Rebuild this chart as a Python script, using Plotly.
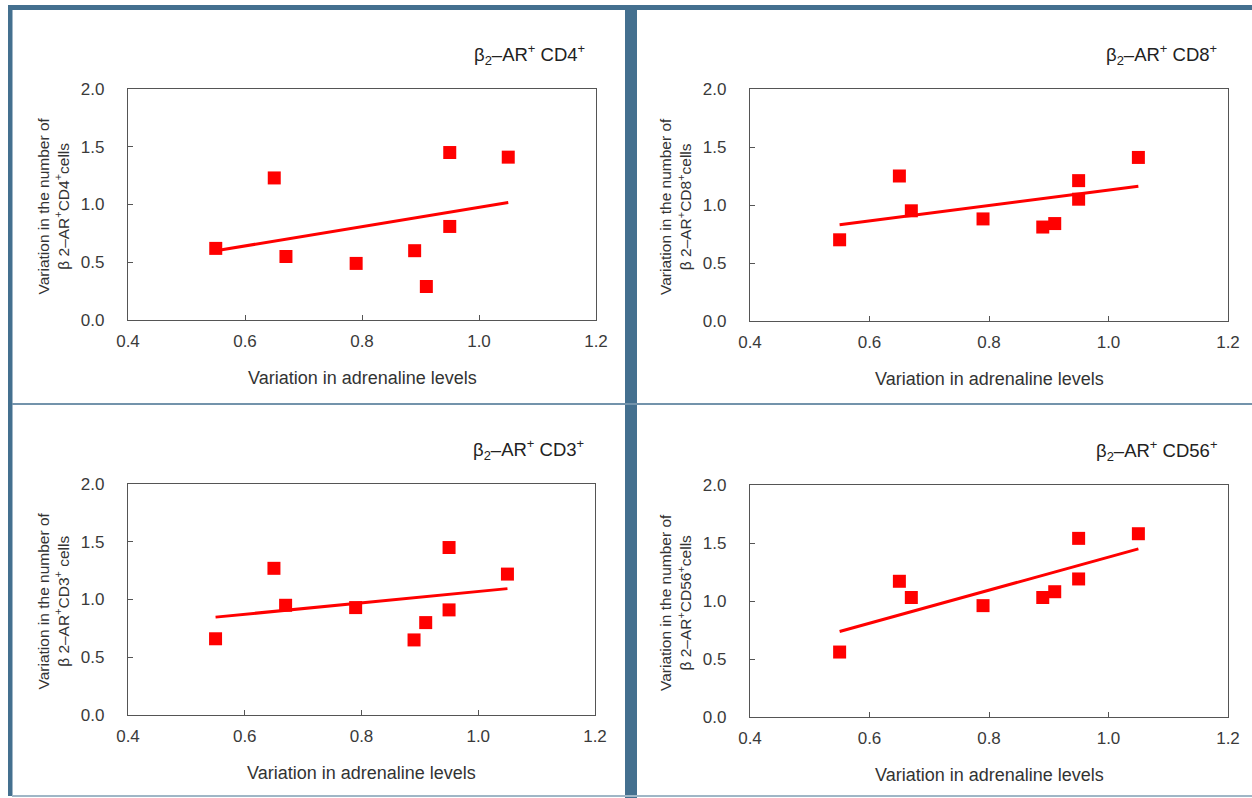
import numpy as np
import plotly.graph_objects as go

# ---- data ----
adrenaline = [0.55, 0.65, 0.67, 0.79, 0.89, 0.91, 0.95, 0.95, 1.05]
cd4 = [0.62, 1.23, 0.55, 0.49, 0.60, 0.29, 1.45, 0.81, 1.41]
cd8 = [0.70, 1.25, 0.95, 0.88, 0.81, 0.84, 1.21, 1.05, 1.41]
cd3 = [0.66, 1.27, 0.95, 0.93, 0.65, 0.80, 1.45, 0.91, 1.22]
cd56 = [0.56, 1.17, 1.03, 0.96, 1.03, 1.08, 1.54, 1.19, 1.58]

panel_titles = ["β<sub>2</sub>–AR<sup>+</sup> CD4<sup>+</sup>",
                "β<sub>2</sub>–AR<sup>+</sup> CD8<sup>+</sup>",
                "β<sub>2</sub>–AR<sup>+</sup> CD3<sup>+</sup>",
                "β<sub>2</sub>–AR<sup>+</sup> CD56<sup>+</sup>"]
ytitles = ["Variation in the number of<br>β 2–AR<sup>+</sup>CD4<sup>+</sup>cells",
           "Variation in the number of<br>β 2–AR<sup>+</sup>CD8<sup>+</sup>cells",
           "Variation in the number of<br>β 2–AR<sup>+</sup>CD3<sup>+</sup> cells",
           "Variation in the number of<br>β 2–AR<sup>+</sup>CD56<sup>+</sup>cells"]
xtitle = "Variation in adrenaline levels"
x_ticks = [0.4, 0.6, 0.8, 1.0, 1.2]
y_ticks = [0.0, 0.5, 1.0, 1.5, 2.0]
series = [cd4, cd8, cd3, cd56]

W, H = 1252, 798
RED = "#ff0000"
STEEL = "#44708f"
FONT = "Liberation Sans"

# plot-area boxes in window pixels (left, right, top, bottom)
boxes = [(128, 596, 89, 320), (750, 1228, 89, 321),
         (128, 595, 484, 715), (750, 1228, 485, 717)]

def px(x):
    return x / W

def py(y):
    return 1 - y / H

fig = go.Figure()
annotations = []
for i, (yv, box) in enumerate(zip(series, boxes)):
    n = "" if i == 0 else str(i + 1)
    l, r, t, b = box
    xa, ya = "x" + n, "y" + n
    fig.add_trace(go.Scatter(x=adrenaline, y=yv, mode="markers", xaxis=xa, yaxis=ya,
                             marker=dict(symbol="square", size=13, color=RED,
                                         line=dict(width=0)),
                             showlegend=False, hoverinfo="x+y"))
    k, c = np.polyfit(adrenaline, yv, 1)
    xs = [min(adrenaline), max(adrenaline)]
    fig.add_trace(go.Scatter(x=xs, y=[k * v + c for v in xs], mode="lines",
                             xaxis=xa, yaxis=ya, line=dict(color=RED, width=3),
                             showlegend=False, hoverinfo="skip"))
    axcommon = dict(showline=True, linecolor="#555555", linewidth=1.3, mirror=True,
                    ticks="inside", ticklen=5, tickcolor="#555555", showgrid=False,
                    zeroline=False, automargin=False,
                    tickfont=dict(family=FONT, size=17, color="#3a3a3a"))
    fig.layout["xaxis" + n] = dict(domain=[px(l), px(r)], anchor=ya, range=[0.4, 1.2],
                                   tickvals=x_ticks, ticktext=[f"{v:.1f}" for v in x_ticks],
                                   ticklabelstandoff=5, **axcommon)
    fig.layout["yaxis" + n] = dict(domain=[py(b), py(t)], anchor=xa, range=[0, 2.0],
                                   tickvals=y_ticks, ticktext=[f"{v:.1f}" for v in y_ticks],
                                   ticklabelstandoff=19, **axcommon)
    annotations.append(dict(text=panel_titles[i], x=px(r - 9), y=py(t - 35),
                            xref="paper", yref="paper", xanchor="right", yanchor="middle",
                            showarrow=False, font=dict(family=FONT, size=18.5, color="#222222")))
    annotations.append(dict(text=xtitle, x=px((l + r) / 2), y=py(b + 58),
                            xref="paper", yref="paper", xanchor="center", yanchor="middle",
                            showarrow=False, font=dict(family=FONT, size=18, color="#333333")))
    annotations.append(dict(text=ytitles[i], x=px(l - 75), y=py((t + b) / 2 + 2),
                            xref="paper", yref="paper", xanchor="center", yanchor="middle",
                            textangle=-90, showarrow=False,
                            font=dict(family=FONT, size=15.5, color="#333333")))

shapes = [
    # top band
    dict(type="rect", xref="paper", yref="paper", x0=px(8), x1=1, y0=py(10), y1=py(5),
         fillcolor=STEEL, line=dict(width=0)),
    # left band
    dict(type="rect", xref="paper", yref="paper", x0=px(8), x1=px(12.5), y0=py(796), y1=py(5),
         fillcolor=STEEL, line=dict(width=0)),
    # central vertical separator
    dict(type="rect", xref="paper", yref="paper", x0=px(625), x1=px(637), y0=0, y1=py(5),
         fillcolor=STEEL, line=dict(width=0)),
    # horizontal separator
    dict(type="rect", xref="paper", yref="paper", x0=px(12), x1=1, y0=py(405), y1=py(403),
         fillcolor="#7393ab", line=dict(width=0)),
    # bottom line
    dict(type="rect", xref="paper", yref="paper", x0=px(12), x1=1, y0=py(797), y1=py(795),
         fillcolor="#9fb6c6", line=dict(width=0)),
]

fig.update_layout(width=W, height=H, autosize=False,
                  margin=dict(l=0, r=0, t=0, b=0, pad=0),
                  paper_bgcolor="white", plot_bgcolor="white",
                  annotations=annotations, shapes=shapes,
                  font=dict(family=FONT, color="#333333"))
fig.write_html("out.html", config={"displayModeBar": False},
               post_script="document.body.style.margin='0';")
